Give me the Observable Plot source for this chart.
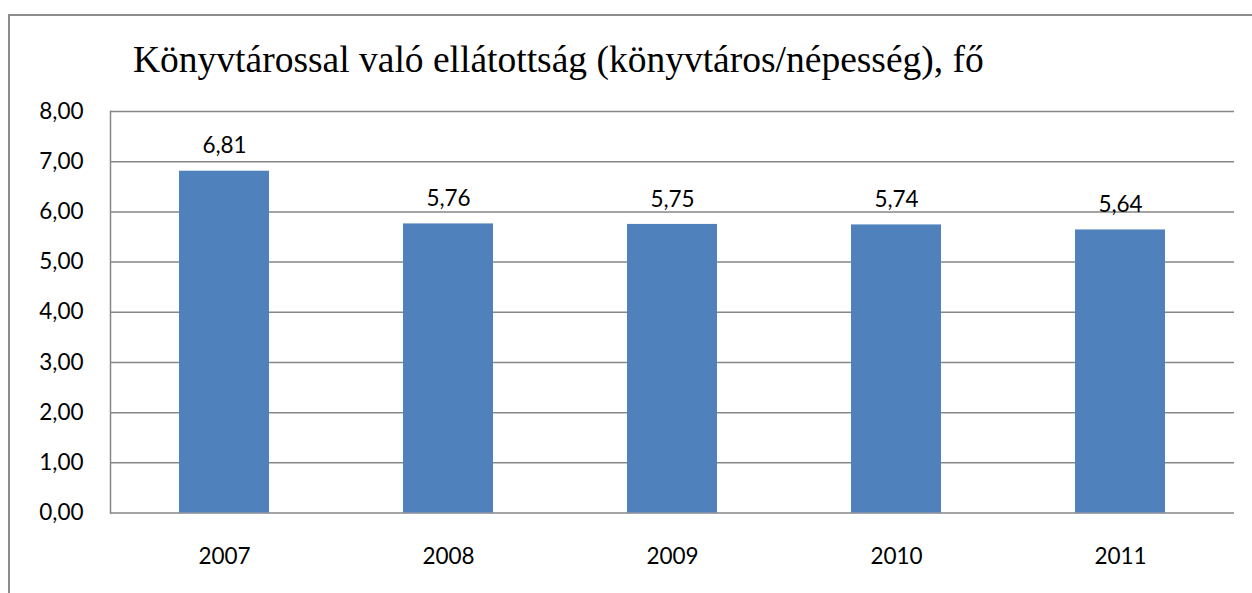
<!DOCTYPE html>
<html>
<head>
<meta charset="utf-8">
<script src="https://cdn.jsdelivr.net/npm/d3@7"></script>
<script src="https://cdn.jsdelivr.net/npm/@observablehq/plot@0.6"></script>
<style>
  html, body { margin: 0; padding: 0; background: #fff; }
  #wrap { position: relative; width: 1252px; height: 593px; overflow: hidden; }
  #frame { position: absolute; left: 8px; top: 14px; width: 1300px; height: 700px;
           border-top: 2px solid #8c8c8c; border-left: 2px solid #8c8c8c; box-sizing: border-box; }
  #title { position: absolute; left: 133px; top: 38px; font-family: "Liberation Serif", serif;
           font-size: 37.5px; line-height: 44px; color: #000; white-space: nowrap; }
  #chart { position: absolute; left: 0; top: 0; }
</style>
</head>
<body>
<div id="wrap">
  <div id="frame"></div>
  <div id="title">Könyvtárossal való ellátottság (könyvtáros/népesség), fő</div>
  <div id="chart"></div>
</div>
<script>
const years = ["2007", "2008", "2009", "2010", "2011"];
const values = [6.81, 5.76, 5.75, 5.74, 5.64];
const yTicks = [0, 1, 2, 3, 4, 5, 6, 7, 8];

const data = years.map((year, i) => ({year, value: values[i]}));
const fmt = d => d.toFixed(2).replace(".", ",");

const chart = Plot.plot({
  width: 1252,
  height: 593,
  marginLeft: 110,
  marginRight: 18,
  marginTop: 111,
  marginBottom: 80.5,
  style: {fontFamily: "Lato, sans-serif", fontSize: "22.5px", color: "#000", background: "transparent"},
  x: {domain: years, paddingInner: 0.6, paddingOuter: 0.3, label: null},
  y: {domain: [0, 8], label: null},
  marks: [
    Plot.gridY(yTicks, {stroke: "#868686", strokeOpacity: 1, strokeWidth: 1.5}),
    Plot.frame({anchor: "left", stroke: "#868686", strokeWidth: 1.5}),
    Plot.barY(data, {x: "year", y: "value", fill: "#4F81BD"}),
    Plot.text(data, {x: "year", y: "value", text: d => fmt(d.value), dy: -25, fill: "#000", fontSize: 22.5}),
    Plot.axisY(yTicks, {tickFormat: fmt, tickSize: 0, tickPadding: 27, fontSize: 22.5, fill: "#000"}),
    Plot.axisX({tickSize: 0, tickPadding: 35, fontSize: 22.5, fill: "#000"})
  ]
});
document.getElementById("chart").appendChild(chart);
</script>
</body>
</html>
